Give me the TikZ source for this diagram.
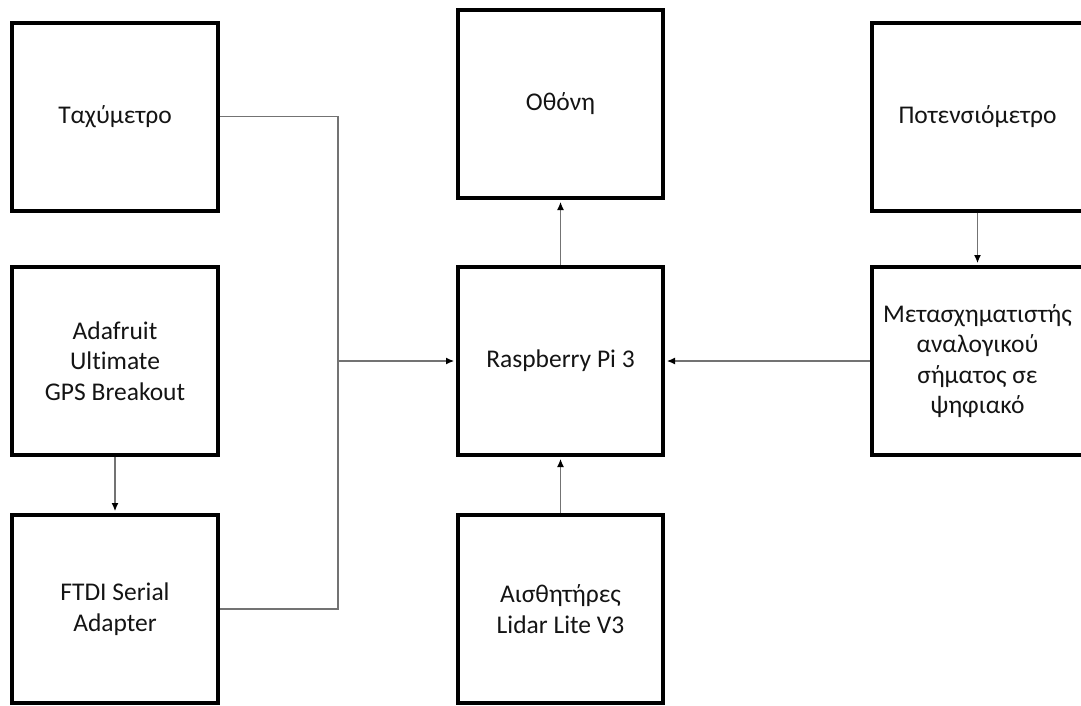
\documentclass[tikz,border=0pt]{standalone}
\usepackage{fontspec}
\setmainfont{Carlito}[Ligatures=NoCommon]
\usetikzlibrary{arrows.meta}
\begin{document}
\begin{tikzpicture}[x=1pt,y=-1pt,
  block/.style={draw=black,line width=4pt,rectangle,minimum width=206pt,
    minimum height=188pt,inner sep=0pt,align=center,text=black!92,
    font=\fontsize{25.5}{30.5}\selectfont},
  wide/.style={block,minimum width=211pt},
  link/.style={draw=black!55,line width=1.1pt},
  arrow/.style={link,shorten >=2pt,-{Latex[length=8pt,width=7pt,color=black]}}]
  \useasboundingbox (0,0) rectangle (1081,705);
  \clip (0,0) rectangle (1081,705);

  % left column
  \node[block] (tach) at (115,116.5) {Ταχύμετρο};
  \node[block] (gps)  at (115,361)   {Adafruit\\Ultimate\\GPS Breakout};
  \node[block] (ftdi) at (115,609)   {FTDI Serial\\Adapter};

  % middle column
  \node[block,minimum width=205pt] (disp)  at (560.5,104) {Οθόνη};
  \node[block,minimum width=205pt] (rpi)   at (560.5,361) {Raspberry Pi 3};
  \node[block,minimum width=205pt] (lidar) at (560.5,609) {Αισθητήρες\\Lidar Lite V3};

  % right column
  \node[wide] (pot) at (977.5,116.5) {Ποτενσιόμετρο};
  \node[wide] (adc) at (977.5,361)   {Μετασχηματιστής\\αναλογικού\\σήματος σε\\ψηφιακό};

  % connectors
  \coordinate (bus) at (338,361);
  \draw[link] (tach.east) -| (bus);
  \draw[link] (ftdi.east) -| (bus);
  \draw[arrow] (bus) -- (rpi.west);
  \draw[arrow] (gps.south) -- (ftdi.north);
  \draw[arrow] (rpi.north) -- (disp.south);
  \draw[arrow] (lidar.north) -- (rpi.south);
  \draw[arrow] (pot.south) -- (adc.north);
  \draw[arrow] (adc.west) -- (rpi.east);
\end{tikzpicture}
\end{document}
